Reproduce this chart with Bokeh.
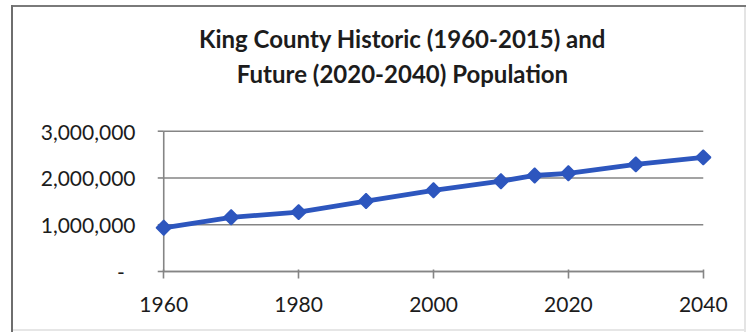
from bokeh.plotting import figure
from bokeh.models import (Range1d, FixedTicker, NumeralTickFormatter, Label,
                          ColumnDataSource)
from bokeh.embed import file_html
from bokeh.resources import INLINE
import numpy as np

# King County population, census years (historic) and forecast years
years = [1960, 1970, 1980, 1990, 2000, 2010, 2015, 2020, 2030, 2040]
population = [935000, 1159000, 1270000, 1507000, 1737000, 1931000,
              2053000, 2100000, 2290000, 2440000]

year_ticks = [1960, 1980, 2000, 2020, 2040]
pop_ticks = [0, 1000000, 2000000, 3000000]
zero_label = "-\u00a0\u00a0"

title_lines = ["King County Historic (1960-2015) and",
               "Future (2020-2040) Population"]

FONT = "Lato"
TEXT = "#1c1c1c"
BLUE = "#2D56BE"
GRID = "#858585"

# layout (pixels): the frame runs from the top of the chart down to the
# zero line so the title can be placed inside it
W, H = 749, 332
FRAME_L, FRAME_W = 143, 580
FRAME_T, FRAME_B = 5, 271
TOP_GRID_PX = 130.7          # pixel row of the highest gridline
X_PAD = 3                    # years of breathing room either side
FRAME_H = FRAME_B - FRAME_T
Y_END = pop_ticks[-1] * FRAME_H / (FRAME_B - TOP_GRID_PX)
X0, X1 = years[0] - X_PAD, years[-1] + X_PAD


def px_to_x(px):
    return X0 + (px - FRAME_L) * (X1 - X0) / FRAME_W


def px_to_y(py):
    return (FRAME_B - py) * Y_END / FRAME_H


# chart border drawn as CSS background strips behind a transparent canvas
border_css = {
    "background-color": "white",
    "background-image": ", ".join(["linear-gradient(#6e6e6e, #6e6e6e)",
                                   "linear-gradient(#7a7a7a, #7a7a7a)",
                                   "linear-gradient(#e4e4e4, #e4e4e4)",
                                   "linear-gradient(#e6e6e6, #e6e6e6)"]),
    "background-repeat": "no-repeat",
    "background-size": "2px 327px, 735px 2px, 2px 327px, 735px 2px",
    "background-position": "11px 5px, 11px 5px, 744px 5px, 11px 329px",
}

p = figure(width=W, height=H, output_backend="svg", toolbar_location=None,
           x_range=Range1d(X0, X1), y_range=Range1d(0, Y_END),
           min_border_left=FRAME_L, min_border_right=W - FRAME_L - FRAME_W,
           min_border_top=FRAME_T, min_border_bottom=H - FRAME_B,
           frame_width=FRAME_W, frame_height=FRAME_H, styles=border_css)

p.background_fill_color = None
p.border_fill_color = None
p.outline_line_color = None
p.xgrid.visible = False
p.ygrid.visible = False

# horizontal gridlines spanning the years on record
src_grid = ColumnDataSource(dict(x0=[years[0]] * len(pop_ticks),
                                 x1=[years[-1]] * len(pop_ticks),
                                 y=pop_ticks))
grid_r = p.segment(x0="x0", x1="x1", y0="y", y1="y", source=src_grid,
                   line_color=GRID, line_width=1.6)

# vertical value axis at the first year, with short outward ticks
yline_r = p.segment(x0=[years[0]], x1=[years[0]],
                    y0=[pop_ticks[0]], y1=[pop_ticks[-1]],
                    line_color=GRID, line_width=1.6)
ytick_r = p.ray(x=[years[0]] * len(pop_ticks), y=pop_ticks, length=6,
                length_units="screen", angle=np.pi,
                line_color=GRID, line_width=1.6)

# population series
line_r = p.line(years, population, line_color=BLUE, line_width=4.8)
pts_r = p.scatter(years, population, marker="square", angle=np.pi / 4,
                  size=10.5, fill_color=BLUE, line_color=BLUE, line_width=1.5)

# frame-clipped glyphs are painted last, after axes and texts
for r in (grid_r, yline_r, ytick_r, line_r, pts_r):
    r.level = "overlay"

# value labels only; the axis line itself is drawn at the first year
yax = p.yaxis[0]
yax.ticker = FixedTicker(ticks=pop_ticks)
yax.formatter = NumeralTickFormatter(format="0,0")
yax.major_label_overrides = {0: zero_label}
yax.axis_line_color = None
yax.major_tick_line_color = None
yax.minor_tick_line_color = None
yax.major_tick_out = 0
yax.major_tick_in = 0
yax.minor_tick_out = 0
yax.minor_tick_in = 0
yax.major_label_standoff = 8
yax.major_label_text_font = FONT
yax.major_label_text_font_size = "21px"
yax.major_label_text_color = TEXT

# year axis at zero population
xax = p.xaxis[0]
xax.bounds = (years[0], years[-1])
xax.ticker = FixedTicker(ticks=year_ticks)
xax.major_tick_out = 7
xax.major_tick_in = 2
xax.minor_tick_out = 0
xax.minor_tick_in = 0
xax.major_label_standoff = 18
xax.axis_line_color = GRID
xax.axis_line_width = 1.6
xax.major_tick_line_color = GRID
xax.major_tick_line_width = 1.6
xax.major_label_text_font = FONT
xax.major_label_text_font_size = "21px"
xax.major_label_text_color = TEXT

# two-line bold title, centred at pixel column 402
for text, base_px in zip(title_lines, [38, 73]):
    p.add_layout(Label(x=px_to_x(402), y=px_to_y(base_px), text=text,
                       text_align="center", text_baseline="alphabetic",
                       text_font=FONT, text_font_style="bold",
                       text_font_size="24px", text_color=TEXT))

open("out.html", "w").write(file_html(p, INLINE))
